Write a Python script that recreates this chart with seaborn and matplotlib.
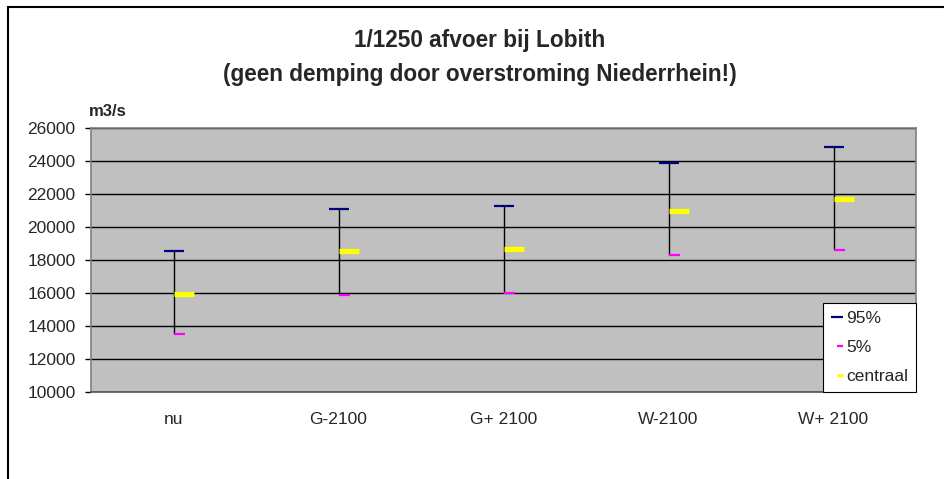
import numpy as np
import pandas as pd
import matplotlib
matplotlib.use("Agg")
import matplotlib.pyplot as plt
from matplotlib.path import Path
from matplotlib.lines import Line2D
from matplotlib.patches import Rectangle
import seaborn as sns

# values (m3/s)
categories = ["nu", "G-2100", "G+ 2100", "W-2100", "W+ 2100"]
p95 = [18550, 21100, 21270, 23900, 24850]
p5 = [13500, 15900, 15970, 18300, 18620]
central = [15950, 18570, 18650, 21000, 21700]
y_ticks = [10000, 12000, 14000, 16000, 18000, 20000, 22000, 24000, 26000]
title_lines = ["1/1250 afvoer bij Lobith", "(geen demping door overstroming Niederrhein!)"]
unit_label = "m3/s"
legend_labels = ["95%", "5%", "centraal"]

df = pd.DataFrame({"scenario": categories, "p95": p95, "p5": p5, "central": central})
df["x"] = np.arange(len(df))

sns.set_style("white")
plt.rcParams["font.family"] = ["Liberation Sans", "DejaVu Sans"]

# marker that starts at the data point and goes to the right (Excel style dash)
right_dash = Path([(0, 0), (1, 0)], [Path.MOVETO, Path.LINETO])

fig = plt.figure(figsize=(9.44, 4.79), dpi=100)
ax = fig.add_axes([91 / 944, 1 - 391.7 / 479, 825 / 944, 263.4 / 479])
ax.set_facecolor("#c0c0c0")

# vertical range lines
ax.vlines(df["x"], df["p5"], df["p95"], color="black", lw=1.0, zorder=3)

sns.scatterplot(data=df, x="x", y="p95", marker="_", s=15 ** 2, color="#000080",
                edgecolor="#000080", linewidth=1.6, ax=ax, zorder=4, legend=False)
sns.scatterplot(data=df, x="x", y="p5", marker=right_dash, s=16 ** 2, color="#ff00ff",
                edgecolor="#ff00ff", linewidth=1.6, ax=ax, zorder=4, legend=False)
sns.scatterplot(data=df, x="x", y="central", marker=right_dash, s=29 ** 2, color="#ffff00",
                edgecolor="#ffff00", linewidth=3.8, ax=ax, zorder=4, legend=False)

ax.set_xlim(-0.5, len(categories) - 0.5)
ax.set_ylim(10000, 26000)
ax.set_yticks(y_ticks)
ax.set_yticklabels([str(v) for v in y_ticks])
ax.yaxis.grid(True, color="black", lw=1.0)
ax.set_axisbelow(True)

# category boundaries get the tick marks, labels sit in between
ax.set_xticks(np.arange(len(categories) + 1) - 0.5)
ax.set_xticklabels([])
ax.set_xticks(np.arange(len(categories)), minor=True)
ax.set_xticklabels(categories, minor=True)
ax.tick_params(axis="x", which="major", direction="inout", length=9, width=1, color="black")
ax.tick_params(axis="x", which="minor", length=0, pad=14.5, labelsize=12.5)
ax.tick_params(axis="y", direction="out", length=4, width=1, color="black", pad=7, labelsize=12.5, left=True)
ax.set_xlabel("")
ax.set_ylabel("")
for side in ax.spines:
    ax.spines[side].set_color("#808080")
    ax.spines[side].set_linewidth(1.2)
ax.spines["bottom"].set_color("#555555")

handles = [
    Line2D([], [], color="#000080", marker="_", ls="none", markersize=9, markeredgewidth=1.6),
    Line2D([], [], color="#ff00ff", marker=right_dash, ls="none", markersize=9, markeredgewidth=1.6),
    Line2D([], [], color="#ffff00", marker=right_dash, ls="none", markersize=9, markeredgewidth=2.2),
]
leg = ax.legend(handles, legend_labels, loc="lower right", bbox_to_anchor=(1, 0),
                borderaxespad=0, frameon=True, fancybox=False, framealpha=1,
                edgecolor="black", fontsize=12.5, handlelength=0.7, handletextpad=0.2,
                labelspacing=0.8, borderpad=0.45)
leg.get_frame().set_linewidth(0.8)

fig.text(480 / 944, 1 - 47 / 479, title_lines[0], ha="center", va="baseline",
         fontsize=16.3, fontweight="bold")
fig.text(480 / 944, 1 - 81.5 / 479, title_lines[1], ha="center", va="baseline",
         fontsize=16.3, fontweight="bold")
fig.text(89 / 944, 1 - 116.5 / 479, unit_label, ha="left", va="baseline",
         fontsize=12, fontweight="bold")

# outer chart border (right and bottom lie outside the picture)
fig.patches.append(Rectangle((8 / 944, -0.2), 1.2, 1.2 - 7 / 479, transform=fig.transFigure,
                             fill=False, edgecolor="black", lw=1.5))

fig.savefig("out.png", dpi=100)
